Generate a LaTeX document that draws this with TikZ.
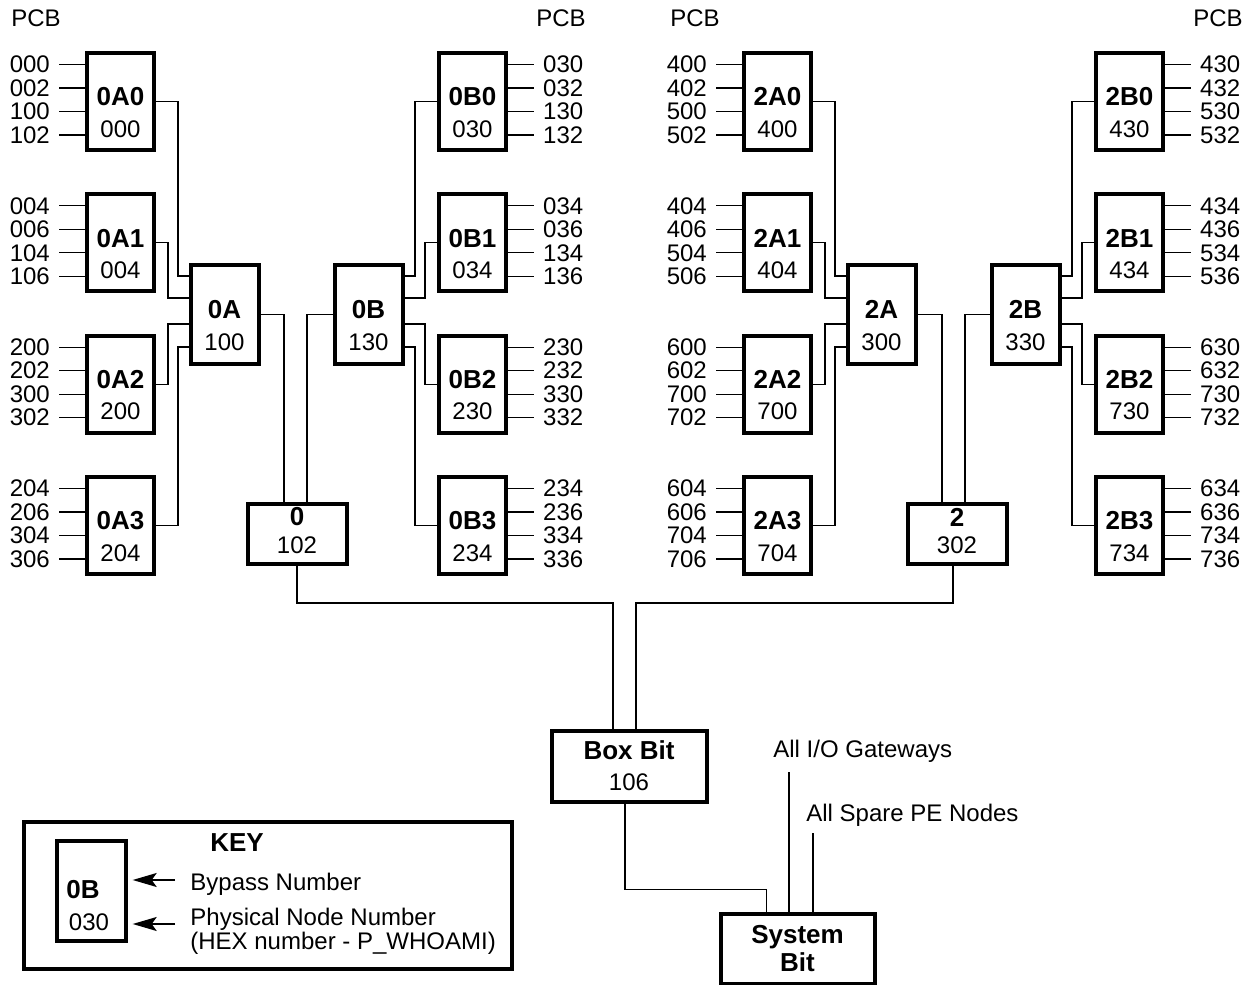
\documentclass[tikz,border=0pt]{standalone}
\usepackage{fontspec}
\setmainfont{Liberation Sans}
\usepackage{tikz}
\usetikzlibrary{calc,arrows.meta}

\tikzset{
  board/.style={draw, line width=2pt, minimum width=33.5pt, minimum height=48.5pt, inner sep=0pt},
  hub/.style={board, minimum width=34pt, minimum height=49.5pt},
  group/.style={board, minimum width=49.5pt, minimum height=30pt},
  bit/.style={board, minimum width=77.5pt, minimum height=35.5pt},
  keyframe/.style={board, minimum width=244pt, minimum height=73.5pt},
  wire/.style={line width=0.6pt},
  pointer/.style={line width=0.8pt, -{Stealth[length=12pt, width=7pt, inset=2.5pt]}},
  bname/.style={font=\fontsize{13}{14}\selectfont\bfseries, inner sep=0pt},
  bnum/.style={font=\fontsize{12}{13}\selectfont, inner sep=0pt},
  link/.style={font=\fontsize{12}{13}\selectfont, inner sep=4.3pt},
  txt/.style={font=\fontsize{12}{13}\selectfont, inner sep=0pt, text depth=0pt},
}

\begin{document}
\begin{tikzpicture}[x=0.5pt, y=-0.5pt]
\useasboundingbox (0,0) rectangle (1255,985);

\node[txt] (pcb1) at (36,18) {PCB};
\node[txt] (pcb2) at (561,18) {PCB};
\node[txt] (pcb3) at (695,18) {PCB};
\node[txt] (pcb4) at (1218,18) {PCB};

% A boards, links on the left
\foreach \nm/\bx/\r/\num/\la/\lb/\lc/\ld in {
  0A0/120.5/0/000/000/002/100/102, 0A1/120.5/1/004/004/006/104/106,
  0A2/120.5/2/200/200/202/300/302, 0A3/120.5/3/204/204/206/304/306,
  2A0/777.5/0/400/400/402/500/502, 2A1/777.5/1/404/404/406/504/506,
  2A2/777.5/2/700/600/602/700/702, 2A3/777.5/3/704/604/606/704/706}{
  \node[board] (b\nm) at (\bx,101.5+141.3*\r) {};
  \node[bname] (b\nm-n) at ($(b\nm)+(0,-4.5)$) {\nm};
  \node[bnum] (b\nm-p) at ($(b\nm)+(0,27.5)$) {\num};
  \foreach \l [count=\k from 0] in {\la,\lb,\lc,\ld}
    \draw[wire] ($(b\nm.west)+(0,-37+23.5*\k)$) -- ++(-26,0) node[link,left] (b\nm-l\k) {\l};
}

% B boards, links on the right
\foreach \nm/\bx/\r/\num/\la/\lb/\lc/\ld in {
  0B0/472.5/0/030/030/032/130/132, 0B1/472.5/1/034/034/036/134/136,
  0B2/472.5/2/230/230/232/330/332, 0B3/472.5/3/234/234/236/334/336,
  2B0/1129.5/0/430/430/432/530/532, 2B1/1129.5/1/434/434/436/534/536,
  2B2/1129.5/2/730/630/632/730/732, 2B3/1129.5/3/734/634/636/734/736}{
  \node[board] (b\nm) at (\bx,101.5+141.3*\r) {};
  \node[bname] (b\nm-n) at ($(b\nm)+(0,-4.5)$) {\nm};
  \node[bnum] (b\nm-p) at ($(b\nm)+(0,27.5)$) {\num};
  \foreach \l [count=\k from 0] in {\la,\lb,\lc,\ld}
    \draw[wire] ($(b\nm.east)+(0,-37+23.5*\k)$) -- ++(26,0) node[link,right] (b\nm-l\k) {\l};
}

\foreach \nm/\bx/\num in {0A/224.5/100, 0B/368.5/130, 2A/881.5/300, 2B/1025.5/330}{
  \node[hub] (h\nm) at (\bx,314.5) {};
  \node[bname] (h\nm-n) at ($(h\nm)+(0,-5)$) {\nm};
  \node[bnum] (h\nm-p) at ($(h\nm)+(0,28)$) {\num};
}

\foreach \g/\bx/\num in {0/297/102, 2/957/302}{
  \node[group] (g\g) at (\bx,534) {};
  \node[bname] (g\g-n) at ($(g\g)+(0,-17)$) {\g};
  \node[bnum] (g\g-p) at ($(g\g)+(0,11)$) {\num};
}

\foreach \g/\da/\db in {0/-13/10, 2/-15/8}{
  \foreach \i/\bus/\dy in {0/22/-38.5, 1/12/-16.5, 2/12/9.5, 3/22/32.5}{
    \draw[wire] (b\g A\i.east) -- ++(\bus,0) |- ($(h\g A.west)+(0,\dy)$);
    \draw[wire] (b\g B\i.west) -- ++(-\bus,0) |- ($(h\g B.east)+(0,\dy)$);
  }
  \draw[wire] (h\g A.east) -| ($(g\g.north)+(\da,0)$);
  \draw[wire] (h\g B.west) -| ($(g\g.north)+(\db,0)$);
}

\node[bit] (boxbit) at (629,766) {};
\node[bname] (boxbit-n) at ($(boxbit)+(0,-16)$) {Box Bit};
\node[bnum] (boxbit-p) at ($(boxbit)+(0,16)$) {106};

\node[bit, minimum width=77pt, minimum height=35pt] (sysbit) at (797.5,948.5) {};
\node[bname, text depth=0pt] (sysbit-n) at ($(sysbit)+(0,-14.5)$) {System};
\node[bname] (sysbit-m) at ($(sysbit)+(0,13.5)$) {Bit};

\draw[wire] (g0.south) -- ++(0,37) -| ($(boxbit.north)+(-16,0)$);
\draw[wire] ($(g2.south)+(-4,0)$) -- ++(0,37) -| ($(boxbit.north)+(7,0)$);
\draw[wire] ($(boxbit.south)+(-4,0)$) -- ++(0,86) -| ($(sysbit.north)+(-31,0)$);

\node[txt, anchor=west] (iogw-t) at (773,749) {All I/O Gateways};
\coordinate (iogw) at (789,772);
\draw[wire] (iogw) -- (iogw |- sysbit.north);
\node[txt, anchor=west] (spare-t) at (806,813) {All Spare PE Nodes};
\coordinate (spare) at (813,833);
\draw[wire] (spare) -- (spare |- sysbit.north);

% key
\node[keyframe] (key) at (267.5,895.5) {};
\node[board, minimum width=34.5pt, minimum height=50pt] (keyboard) at (91.2,891) {};
\node[bname] (keyboard-n) at (83,890) {0B};
\node[bnum] (keyboard-p) at (89,922) {030};
\node[bname] (key-t) at (237,843) {KEY};
\node[txt, anchor=west] (bypass) at (190,882) {Bypass Number};
\node[txt, anchor=west] (phys) at (190,917) {Physical Node Number};
\node[txt, anchor=west] (hex) at (190,941) {(HEX number - P\_WHOAMI)};
\coordinate (bypass-a) at (175,880);
\coordinate (phys-a) at (175,924);
\draw[pointer] (bypass-a) -- ($(keyboard.east |- bypass-a)+(5,0)$);
\draw[pointer] (phys-a) -- ($(keyboard.east |- phys-a)+(5,0)$);
\end{tikzpicture}
\end{document}
